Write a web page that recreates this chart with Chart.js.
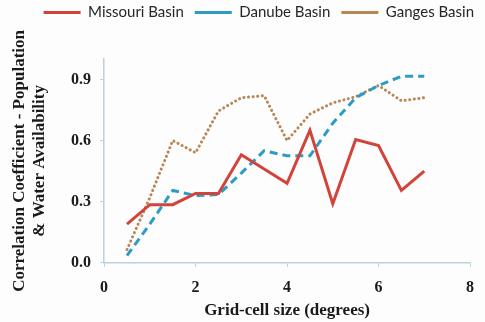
<!DOCTYPE html>
<html>
<head>
<meta charset="utf-8">
<script src="https://cdn.jsdelivr.net/npm/chart.js@4.4.1/dist/chart.umd.min.js"></script>
<style>
  html, body { margin: 0; padding: 0; background: #fdfdfd; }
  #wrap { width: 485px; height: 322px; position: relative; }
</style>
</head>
<body>
<div id="wrap"><canvas id="c"></canvas></div>
<script>
// grid-cell sizes (degrees)
var gridSizes = [0.5, 1, 1.5, 2, 2.5, 3, 3.5, 4, 4.5, 5, 5.5, 6, 6.5, 7];
var missouri = [0.19, 0.285, 0.285, 0.34, 0.34, 0.53, 0.46, 0.39, 0.65, 0.29, 0.605, 0.575, 0.355, 0.45];
var danube   = [0.035, 0.19, 0.355, 0.33, 0.335, 0.44, 0.55, 0.525, 0.525, 0.685, 0.81, 0.87, 0.915, 0.915];
var ganges   = [0.065, 0.32, 0.6, 0.54, 0.745, 0.81, 0.82, 0.6, 0.73, 0.785, 0.815, 0.87, 0.795, 0.81];
var yTicks = [0, 0.3, 0.6, 0.9];

function pts(vals) {
  return vals.map(function (v, i) { return { x: gridSizes[i], y: v }; });
}

var axisColor = '#b9d2de';
var serif = '"Liberation Serif", "Times New Roman", serif';
var tickFont = { family: serif, size: 16, weight: 'bold' };

// Legende hoeher machen (Plot beginnt tiefer) und etwas nach rechts schieben
var legendSpacer = {
  id: 'legendSpacer',
  beforeInit: function (chart) {
    var orig = chart.legend.fit;
    chart.legend.fit = function () {
      orig.call(this);
      this.height += 29;
    };
  },
  afterUpdate: function (chart) {
    if (!chart.legend) return;
    chart.legend.left += 11;
    chart.legend.right += 11;
  }
};

new Chart(document.getElementById('c').getContext('2d'), {
  type: 'line',
  data: {
    datasets: [
      { label: 'Missouri Basin', data: pts(missouri), borderColor: '#d2433a', borderWidth: 3,
        pointRadius: 0, tension: 0, fill: false },
      { label: 'Danube Basin', data: pts(danube), borderColor: '#2b9dc5', borderWidth: 3,
        borderDash: [8, 5], pointRadius: 0, tension: 0, fill: false },
      { label: 'Ganges Basin', data: pts(ganges), borderColor: '#b98656', borderWidth: 3,
        borderDash: [0.1, 4.5], borderCapStyle: 'round', pointRadius: 0, tension: 0, fill: false }
    ]
  },
  plugins: [legendSpacer],
  options: {
    responsive: true,
    maintainAspectRatio: false,
    animation: false,
    layout: { padding: { left: 0, right: 11, top: -6, bottom: 3 } },
    plugins: {
      tooltip: { enabled: false },
      legend: {
        position: 'top',
        align: 'end',
        labels: {
          usePointStyle: true,
          pointStyleWidth: 37,
          pointStyle: 'line',
          boxHeight: 14,
          padding: 11,
          color: '#262626',
          font: { family: 'Lato, "Open Sans", sans-serif', size: 15 }
        }
      }
    },
    scales: {
      x: {
        type: 'linear',
        min: 0, max: 8,
        ticks: { stepSize: 2, color: '#1a1a1a', font: tickFont, padding: 11 },
        grid: { display: true, drawOnChartArea: false, drawTicks: true, tickLength: 4, color: axisColor },
        border: { color: axisColor, width: 1.5 },
        title: { display: true, text: 'Grid-cell size (degrees)', color: '#1a1a1a',
                 font: { family: serif, size: 17, weight: 'bold', lineHeight: 1.0 },
                 padding: { top: -6, bottom: 0 } }
      },
      y: {
        min: 0, max: 1.0,
        afterBuildTicks: function (scale) {
          scale.ticks = yTicks.map(function (v) { return { value: v }; });
        },
        ticks: { color: '#1a1a1a', font: tickFont, padding: 9,
                 callback: function (v) { return Number(v).toFixed(1); } },
        grid: { display: true, drawOnChartArea: false, drawTicks: true, tickLength: 4, color: axisColor },
        border: { color: axisColor, width: 1.5 },
        title: { display: true, text: ['Correlation Coefficient - Population', '& Water Availability'],
                 color: '#1a1a1a', font: { family: serif, size: 17, weight: 'bold', lineHeight: 1.18 },
                 padding: { top: 10, bottom: 12 } }
      }
    }
  }
});
</script>
</body>
</html>
